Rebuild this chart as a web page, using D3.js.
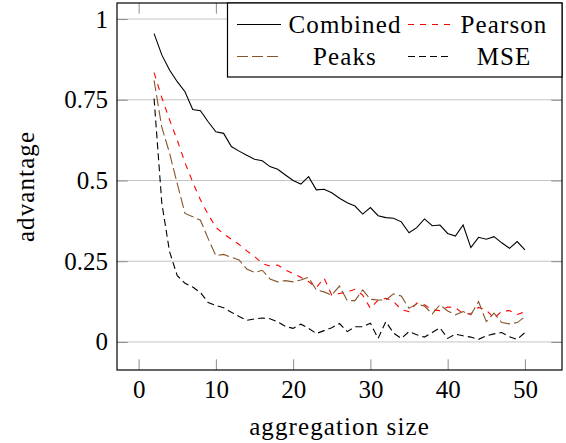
<!DOCTYPE html>
<html lang="en">
<head>
<meta charset="utf-8">
<script src="https://cdn.jsdelivr.net/npm/d3@7"></script>
</head>
<body style="margin:0">
<svg id="chart" width="566" height="443"></svg>

<script>
// data
var aggSizes = [2,3,4,5,6,7,8,9,10,11,12,13,14,15,16,17,18,19,20,21,22,23,24,25,26,
  27,28,29,30,31,32,33,34,35,36,37,38,39,40,41,42,43,44,45,46,47,48,49,50];

var combined = [0.955,0.889,0.842,0.806,0.775,0.720,0.716,0.682,0.651,0.646,0.605,0.591,
  0.578,0.566,0.561,0.543,0.535,0.517,0.500,0.489,0.512,0.471,0.473,0.462,0.445,0.431,
  0.421,0.396,0.416,0.391,0.385,0.383,0.372,0.338,0.354,0.381,0.360,0.362,0.336,0.328,
  0.362,0.292,0.324,0.318,0.326,0.307,0.290,0.311,0.285];

var pearson = [0.834,0.757,0.688,0.625,0.555,0.495,0.440,0.395,0.355,0.335,0.318,0.302,
  0.282,0.265,0.243,0.235,0.238,0.223,0.212,0.200,0.187,0.168,0.198,0.145,0.150,0.155,
  0.163,0.145,0.104,0.130,0.135,0.125,0.100,0.094,0.120,0.115,0.099,0.097,0.108,0.106,
  0.088,0.087,0.107,0.099,0.073,0.095,0.097,0.085,0.093];

var peaks = [0.810,0.665,0.585,0.490,0.398,0.388,0.377,0.320,0.267,0.271,0.262,0.254,
  0.226,0.215,0.222,0.195,0.186,0.190,0.186,0.192,0.200,0.161,0.155,0.145,0.173,0.128,
  0.128,0.161,0.132,0.130,0.130,0.149,0.142,0.104,0.118,0.111,0.087,0.115,0.096,0.084,
  0.094,0.084,0.125,0.063,0.089,0.060,0.056,0.060,0.078];

var mse = [0.754,0.430,0.280,0.205,0.182,0.170,0.153,0.122,0.113,0.106,0.092,0.079,
  0.067,0.071,0.074,0.072,0.062,0.048,0.042,0.055,0.042,0.026,0.035,0.044,0.057,0.032,
  0.047,0.047,0.058,0.011,0.063,0.027,0.011,0.032,0.022,0.015,0.029,0.044,0.011,0.024,
  0.019,0.015,0.008,0.019,0.025,0.029,0.016,0.008,0.029];

var xTicks = [0, 10, 20, 30, 40, 50];
var yTicks = [0, 0.25, 0.5, 0.75, 1];
var yTickLabels = ["0", "0.25", "0.5", "0.75", "1"];

var seriesNames = ["Combined", "Pearson", "Peaks", "MSE"];
var seriesValues = [combined, pearson, peaks, mse];
var seriesColors = ["#000000", "#ff0000", "#85562a", "#000000"];
var seriesDash = [null, "6,6", "11,4", "7,4"];

// frame of the axis box
var boxL = 117, boxR = 562, boxT = 3, boxB = 370;
var fontName = "Liberation Serif";
var fontSize = 25;
var wordSpacing = 1.1;   // widen the Times-like face towards the TeX look
var tickLen = 10.7;

var svg = d3.select("#chart");

var x = d3.scaleLinear().domain([-2.8, 54.8]).range([boxL, boxR]);
var y = d3.scaleLinear().domain([-0.0869, 1.0497]).range([boxB, boxT]);

// horizontal grid
svg.append("g").selectAll("line")
  .data(yTicks)
  .enter().append("line")
  .attr("x1", boxL).attr("x2", boxR)
  .attr("y1", function(d) { return y(d); })
  .attr("y2", function(d) { return y(d); })
  .attr("stroke", "#c4c4c4")
  .attr("stroke-width", 1);

// axes: ticks point inwards on all four sides
var gLeft = svg.append("g").attr("transform", "translate(" + boxL + ",0)")
  .call(d3.axisLeft(y).tickValues(yTicks).tickSize(-tickLen).tickPadding(9)
    .tickFormat(function(d, i) { return yTickLabels[i]; }));
var gBottom = svg.append("g").attr("transform", "translate(0," + boxB + ")")
  .call(d3.axisBottom(x).tickValues(xTicks).tickSize(-tickLen).tickPadding(10)
    .tickFormat(d3.format("d")));
var gRight = svg.append("g").attr("transform", "translate(" + boxR + ",0)")
  .call(d3.axisRight(y).tickValues(yTicks).tickSize(-tickLen).tickFormat(""));
var gTop = svg.append("g").attr("transform", "translate(0," + boxT + ")")
  .call(d3.axisTop(x).tickValues(xTicks).tickSize(-tickLen).tickFormat(""));

[gLeft, gBottom, gRight, gTop].forEach(function(g) {
  g.attr("font-family", fontName).attr("font-size", fontSize);
  g.select(".domain").remove();
  g.selectAll(".tick line").attr("stroke", "#8c8c8c").attr("stroke-width", 1);
  g.selectAll(".tick text")
    .attr("font-family", fontName)
    .attr("font-size", fontSize)
    .attr("fill", "#000");
});

// series
var line = d3.line()
  .x(function(d, i) { return x(aggSizes[i]); })
  .y(function(d) { return y(d); });

seriesValues.forEach(function(vals, k) {
  svg.append("path")
    .datum(vals)
    .attr("d", line)
    .attr("fill", "none")
    .attr("stroke", seriesColors[k])
    .attr("stroke-width", 1.1)
    .attr("stroke-dasharray", seriesDash[k]);
});

// box
svg.append("rect")
  .attr("x", boxL).attr("y", boxT)
  .attr("width", boxR - boxL).attr("height", boxB - boxT)
  .attr("fill", "none")
  .attr("stroke", "#000")
  .attr("stroke-width", 1.2);

// axis titles
svg.append("text")
  .attr("x", (boxL + boxR) / 2).attr("y", 435)
  .attr("text-anchor", "middle")
  .attr("font-family", fontName)
  .attr("font-size", fontSize)
  .attr("letter-spacing", wordSpacing)
  .text("aggregation size");

svg.append("text")
  .attr("transform", "translate(34," + ((boxT + boxB) / 2) + ") rotate(-90)")
  .attr("text-anchor", "middle")
  .attr("font-family", fontName)
  .attr("font-size", fontSize)
  .attr("letter-spacing", wordSpacing)
  .text("advantage");

// legend, two columns
var legend = svg.append("g");
legend.append("rect")
  .attr("x", 227.5).attr("y", boxT)
  .attr("width", boxR - 227.5).attr("height", 74)
  .attr("fill", "#fff")
  .attr("stroke", "#000")
  .attr("stroke-width", 1.2);

var legSampleX = [237, 408];
var legTextX = [345, 504];
var legRowY = [24.5, 56.5];

seriesNames.forEach(function(name, k) {
  var col = k % 2, row = Math.floor(k / 2);
  legend.append("line")
    .attr("x1", legSampleX[col]).attr("x2", legSampleX[col] + 44)
    .attr("y1", legRowY[row]).attr("y2", legRowY[row])
    .attr("stroke", seriesColors[k])
    .attr("stroke-width", 1.1)
    .attr("stroke-dasharray", seriesDash[k]);
  legend.append("text")
    .attr("x", legTextX[col]).attr("y", legRowY[row] + 8)
    .attr("text-anchor", "middle")
    .attr("font-family", fontName)
    .attr("font-size", fontSize)
    .attr("letter-spacing", wordSpacing)
    .text(name);
});
</script>
</body>
</html>
